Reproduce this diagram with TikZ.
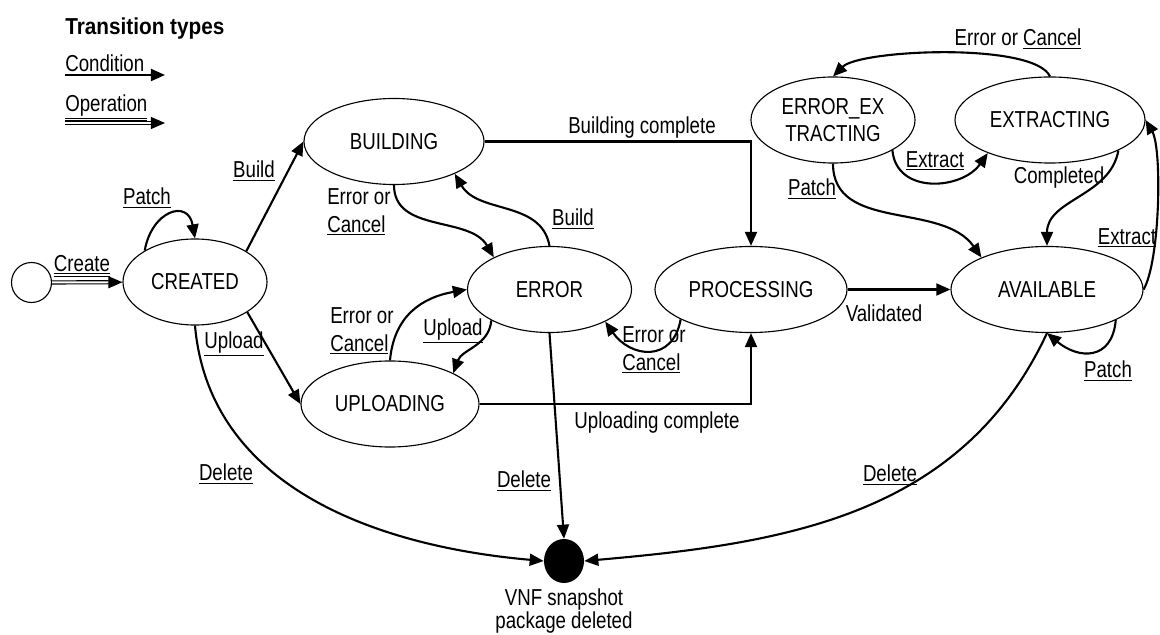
\documentclass[tikz,border=0pt]{standalone}
\usepackage{fontspec}
\setmainfont[FakeStretch=0.81, BoldFeatures={FakeStretch=0.9}]{Liberation Sans}
\usetikzlibrary{shapes.geometric,arrows.meta,positioning}

\tikzset{
  state/.style={ellipse, draw, line width=0.8pt, inner sep=0pt, minimum height=2.15cm, align=center},
  trans/.style={line width=1.5pt, -{Triangle[length=10pt,width=8.5pt]}},
  optrans/.style={trans, line width=0.8pt, double, double distance=1.4pt},
  lbl/.style={inner sep=0pt},
}

\begin{document}
\begin{tikzpicture}[x=0.025cm, y=-0.025cm, every node/.style={font=\fontsize{16.4}{19.5}\selectfont}]
    \useasboundingbox (0,0) rectangle (1160,635);

    % Legend
    \node[lbl, anchor=west, font=\fontsize{16.4}{19.5}\selectfont\bfseries] (legtitle) at (65,29) {Transition types};
    \node[lbl, anchor=south west] (legcond) at (65,72) {Condition};
    \coordinate (conda) at (65,75);
    \coordinate (condb) at (165,75);
    \draw[trans] (conda) -- (condb);
    \node[lbl, anchor=west] (legop) at (65,108) {\underline{\underline{Operation}}};
    \coordinate (opa) at (65,123);
    \coordinate (opb) at (165,123);
    \draw[optrans] (opa) -- (opb);

    % States
    \node[circle, draw, line width=0.8pt, minimum size=1cm, inner sep=0pt] (init) at (31.5,282.5) {};
    \node[state, minimum width=3.6cm] (created) at (195,282) {CREATED};
    \node[state, minimum width=4.5cm] (building) at (394,141.5) {BUILDING};
    \node[state, minimum width=4.45cm] (uploading) at (390,404) {UPLOADING};
    \node[state, minimum width=4.1cm] (error) at (549.5,289.5) {ERROR};
    \node[state, minimum width=4.8cm] (processing) at (751,289.5) {PROCESSING};
    \node[state, minimum width=4.8cm] (available) at (1047,289.5) {AVAILABLE};
    \node[state, minimum width=4.1cm] (errext) at (833,120) {ERROR\_EX\\TRACTING};
    \node[state, minimum width=4.75cm] (extracting) at (1050,120) {EXTRACTING};
    \node[ellipse, fill=black, minimum width=1cm, minimum height=1.1cm, inner sep=0pt] (final) at (564,561) {};
    \node[lbl, below=4pt of final, align=center, font=\fontsize{16.4}{16}\selectfont] (finaltxt) {VNF snapshot\\package deleted};

    % Transitions
    \draw[optrans] (init) -- (created);
    \draw[trans] (created.148) to[out=80, in=100, looseness=2] (created.north);
    \draw[trans] (created.31.6) -- (building.west);
    \draw[trans] (created.-30.8) -- (uploading.west);
    \draw[trans] (created.south) to[out=-85, in=175] (final.west);
    \draw[trans] (building.south) to[out=-90, in=120] (error.150.5);
    \draw[trans] (error.north) to[out=100, in=-60] (building.-28.7);
    \draw[trans] (building.east) -| (processing.north);
    \draw[trans] (uploading.north) to[out=85, in=190, looseness=1.1] (error.west);
    \draw[trans] (error.208) to[out=-95, in=70] (uploading.26.6);
    \draw[trans] (uploading.east) -| (processing.south);
    \draw[trans] (processing.203.8) to[out=-100, in=-55, looseness=1.5] (error.-30.4);
    \draw[trans] (error.south) -- (final.north);
    \draw[trans] (processing.east) -- (available.west);
    \draw[trans] (available.south) to[out=-115, in=5] (final.east);
    \draw[trans] (available.-24) to[out=-95, in=-40, looseness=1.5] (available.south);
    \draw[trans] (available.east) to[out=60, in=-60, looseness=0.5] (extracting.east);
    \draw[trans] (extracting.-24) to[out=-100, in=90] (available.north);
    \draw[trans] (extracting.north) to[out=115, in=45, looseness=0.45] (errext.north);
    \draw[trans] (errext.-27) to[out=-85, in=-125, looseness=1.2] (extracting.208);
    \draw[trans] (errext.south) to[out=-90, in=125] (available.154.8);

    % Labels
    \node[lbl] (lcreate) at (82,266) {\underline{\underline{Create}}};
    \node[lbl] (lpatch1) at (147,198) {\underline{Patch}};
    \node[lbl] (lbuild1) at (254,171) {\underline{Build}};
    \node[lbl] (lupload1) at (234,344) {\underline{Upload}};
    \node[lbl] (ldelete1) at (226,474) {\underline{Delete}};
    \node[lbl, anchor=west, align=left] (lerr1) at (327,212) {Error or\\\underline{Cancel}};
    \node[lbl] (lbuild2) at (573,219) {\underline{Build}};
    \node[lbl] (lbcomplete) at (642,128) {Building complete};
    \node[lbl, anchor=west, align=left] (lerr2) at (330,331) {Error or\\\underline{Cancel}};
    \node[lbl] (lupload2) at (453,331) {\underline{Upload}};
    \node[lbl] (lucomplete) at (657,423) {Uploading complete};
    \node[lbl, anchor=west, align=left] (lerr3) at (622,350) {Error or\\\underline{Cancel}};
    \node[lbl] (ldelete2) at (524,481) {\underline{Delete}};
    \node[lbl] (lvalidated) at (884,313) {Validated};
    \node[lbl] (ldelete3) at (890,475) {\underline{Delete}};
    \node[lbl] (lpatch2) at (1108,371) {\underline{Patch}};
    \node[lbl] (lextract1) at (1127,238) {\underline{Extract}};
    \node[lbl] (lcompleted) at (1059,178) {Completed};
    \node[lbl] (lerr4) at (1018,39) {Error or \underline{Cancel}};
    \node[lbl] (lextract2) at (935,161) {\underline{Extract}};
    \node[lbl] (lpatch3) at (812,189) {\underline{Patch}};
\end{tikzpicture}
\end{document}
